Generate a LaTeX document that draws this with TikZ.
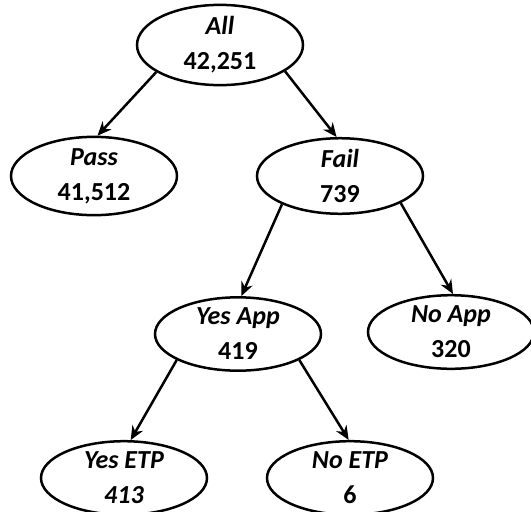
\documentclass[tikz,border=0pt]{standalone}
\usepackage{fontspec}
\setmainfont{Carlito}
\usetikzlibrary{shapes.geometric,arrows.meta}
\begin{document}
\begin{tikzpicture}[x=1pt,y=-1pt,
  oval/.style={ellipse,draw,line width=2.5pt,minimum width=166pt,minimum height=70pt,inner sep=0pt,align=center,font=\fontsize{26}{35}\selectfont\bfseries},
  arr/.style={line width=2.5pt,-{Stealth[length=14pt,width=12pt]}}]
\useasboundingbox (0,0) rectangle (531,512);
\clip (0,0) rectangle (531,512);
\node[oval] (all) at (220,45) {\textit{All}\\42,251};
\node[oval] (pass) at (94,176) {\textit{Pass}\\41,512};
\node[oval] (fail) at (340,176) {\textit{Fail}\\739};
\node[oval] (yesapp) at (238,334) {\textit{Yes App}\\419};
\node[oval] (noapp) at (451,332) {\textit{No App}\\320};
\node[oval] (yesetp) at (124,478) {\textit{Yes ETP}\\\textit{413}};
\node[oval] (noetp) at (350,478) {\textit{No ETP}\\6};
\draw[arr] (all.203) -- (pass.85);
\draw[arr] (all.338) -- (fail.95);
\draw[arr] (fail.206) -- (yesapp.85);
\draw[arr] (fail.336) -- (noapp.87);
\draw[arr] (yesapp.203) -- (yesetp.80);
\draw[arr] (yesapp.337) -- (noetp.92);
\end{tikzpicture}
\end{document}
